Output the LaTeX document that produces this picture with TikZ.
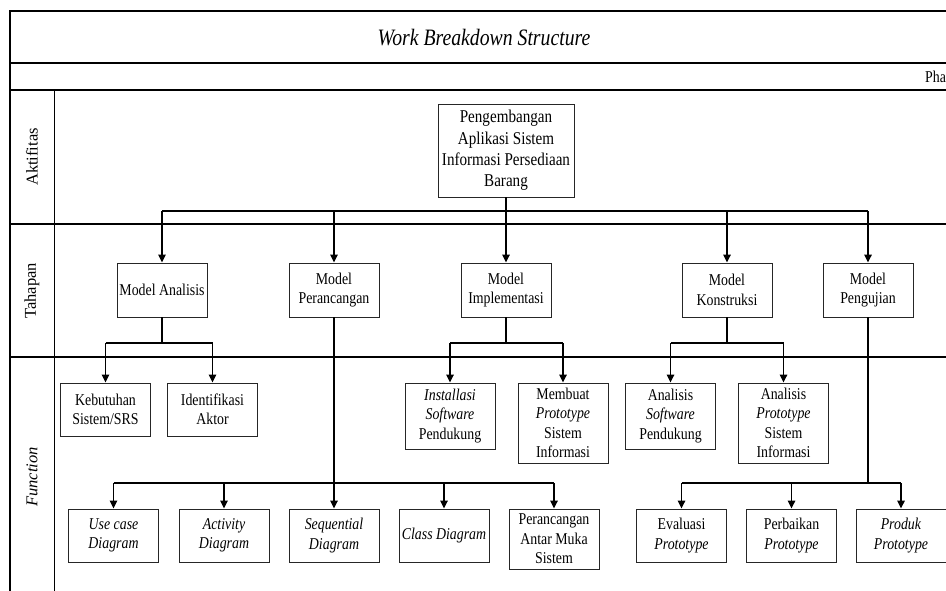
\documentclass[tikz,border=0pt]{standalone}
\usepackage{fontspec}
\setmainfont{Liberation Serif}[FakeStretch=0.84]
\newfontfamily\plainserif{Liberation Serif}
\usetikzlibrary{arrows.meta}
\tikzset{
  box/.style={draw=black!85, line width=0.9pt, fill=white, align=center, inner sep=1pt,
    minimum width=90pt, font=\fontsize{16.5}{19.5}\selectfont},
  gridline/.style={line width=1.3pt},
  conn/.style={line width=1.5pt},
  arr/.style={conn, -{Triangle[width=7.5pt,length=8pt]}},
  lanelabel/.style={rotate=90, font=\plainserif\fontsize{16.5}{19.5}\selectfont},
}
\begin{document}
\begin{tikzpicture}[x=1pt, y=-1pt]
\useasboundingbox (0,0) rectangle (946,590);
% frame and lanes
\draw[gridline] (10,591) -- (10,11) -- (948,11);
\draw[gridline] (10,63) -- (948,63);
\draw[gridline] (10,90) -- (948,90);
\draw[gridline] (10,224) -- (948,224);
\draw[gridline] (10,357) -- (948,357);
\draw[line width=1pt] (54,90) -- (54,591);
% headings
\node[font=\itshape\fontsize{23.5}{28}\selectfont] (title) at (484,38) {Work Breakdown Structure};
\node[anchor=west, inner sep=0pt, font=\fontsize{16.5}{19.5}\selectfont] (phase) at (925,77) {Pha};
\node[lanelabel] (lakt) at (32,157) {Aktifitas};
\node[lanelabel] (ltah) at (32,291) {Tahapan};
\node[lanelabel, font=\plainserif\itshape\fontsize{16.5}{19.5}\selectfont] (lfun) at (32,477) {Function};
% level 0
\node[box, minimum width=136pt, minimum height=93pt, font=\fontsize{18}{21.3}\selectfont] (top) at (506,150.5)
  {Pengembangan\\Aplikasi Sistem\\Informasi Persediaan\\Barang};
% level 1
\node[box, minimum height=54pt] (ana) at (162,290) {Model Analisis};
\node[box, minimum height=54pt] (per) at (334,290) {Model\\Perancangan};
\node[box, minimum height=54pt] (imp) at (506,290) {Model\\Implementasi};
\node[box, minimum height=54pt] (kon) at (727,290) {Model\\Konstruksi};
\node[box, minimum height=54pt] (pen) at (868,290) {Model\\Pengujian};
% level 2 upper
\node[box, minimum height=53pt] (keb) at (105.5,409.5) {Kebutuhan\\Sistem/SRS};
\node[box, minimum height=53pt] (ide) at (212.5,409.5) {Identifikasi\\Aktor};
\node[box, minimum height=66pt] (ins) at (450,416) {\textit{Installasi}\\\textit{Software}\\Pendukung};
\node[box, minimum height=80pt] (mem) at (563,423) {Membuat\\\textit{Prototype}\\Sistem\\Informasi};
\node[box, minimum height=66pt] (asw) at (670.5,416) {Analisis\\\textit{Software}\\Pendukung};
\node[box, minimum height=80pt] (apr) at (783.5,423) {Analisis\\\textit{Prototype}\\Sistem\\Informasi};
% level 2 lower
\node[box, minimum height=53pt] (use) at (113.5,535.5) {\textit{Use case}\\\textit{Diagram}};
\node[box, minimum height=53pt] (act) at (224,535.5) {\textit{Activity}\\\textit{Diagram}};
\node[box, minimum height=53pt] (seq) at (334,535.5) {\textit{Sequential}\\\textit{Diagram}};
\node[box, minimum height=53pt] (cls) at (444,535.5) {\textit{Class Diagram}};
\node[box, minimum height=60pt] (pam) at (554,539) {Perancangan\\Antar Muka\\Sistem};
\node[box, minimum height=53pt] (eva) at (681.5,535.5) {Evaluasi\\\textit{Prototype}};
\node[box, minimum height=53pt] (prb) at (791.5,535.5) {Perbaikan\\\textit{Prototype}};
\node[box, minimum height=53pt] (prd) at (901,535.5) {\textit{Produk}\\\textit{Prototype}};
% bus coordinates
\coordinate (b0) at (0,211);
\coordinate (b1) at (0,343);
\coordinate (b2) at (0,483);
% level 0 -> level 1
\draw[arr] (top.south) -- (imp.north);
\draw[conn] (ana.north |- b0) -- (pen.north |- b0);
\foreach \n in {ana,per,kon,pen} \draw[arr] (\n.north |- b0) -- (\n.north);
% analisis
\draw[conn] (ana.south) -- (ana.south |- b1);
\draw[conn] (keb.north |- b1) -- (ide.north |- b1);
\foreach \n in {keb,ide} \draw[arr] (\n.north |- b1) -- (\n.north);
% implementasi
\draw[conn] (imp.south) -- (imp.south |- b1);
\draw[conn] (ins.north |- b1) -- (mem.north |- b1);
\foreach \n in {ins,mem} \draw[arr] (\n.north |- b1) -- (\n.north);
% konstruksi
\draw[conn] (kon.south) -- (kon.south |- b1);
\draw[conn] (asw.north |- b1) -- (apr.north |- b1);
\foreach \n in {asw,apr} \draw[arr] (\n.north |- b1) -- (\n.north);
% perancangan
\draw[arr] (per.south) -- (seq.north);
\draw[conn] (use.north |- b2) -- (pam.north |- b2);
\foreach \n in {use,act,cls,pam} \draw[arr] (\n.north |- b2) -- (\n.north);
% pengujian
\draw[conn] (pen.south) -- (pen.south |- b2);
\draw[conn] (eva.north |- b2) -- (prd.north |- b2);
\foreach \n in {eva,prb,prd} \draw[arr] (\n.north |- b2) -- (\n.north);
\end{tikzpicture}
\end{document}
